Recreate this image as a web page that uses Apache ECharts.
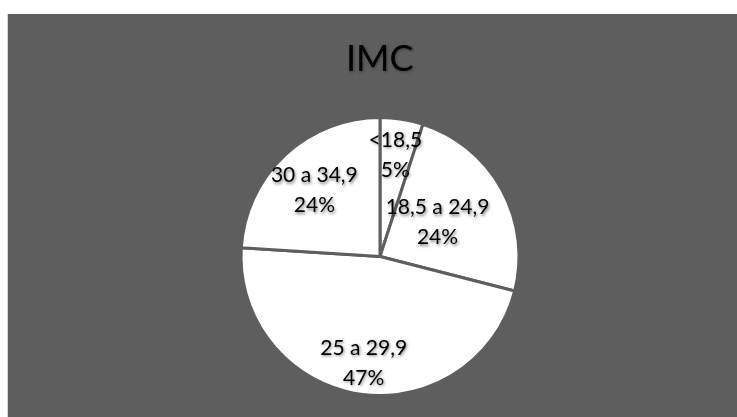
<!DOCTYPE html>
<html>
<head>
<meta charset="utf-8">
<script src="https://cdn.jsdelivr.net/npm/echarts@6/dist/echarts.min.js"></script>
<style>
html,body{margin:0;padding:0;background:#fff;}
#wrap{position:absolute;left:7px;top:14px;width:730px;height:403px;border-left:1px solid #d4d4d4;box-sizing:border-box;}
#chart{width:729px;height:403px;}
</style>
</head>
<body>
<div id="wrap"><div id="chart"></div></div>
<script>
const titleText = 'IMC';
const categories = ['<18,5', '18,5 a 24,9', '25 a 29,9', '30 a 34,9'];
const values = [5, 24, 47, 24];
const labelOffsets = [[4, -30], [-6, 1], [-5, 35], [-16, -13]];

const chart = echarts.init(document.getElementById('chart'));
const bg = '#5e5e5e';
chart.setOption({
  backgroundColor: bg,
  animation: false,
  title: {
    text: titleText,
    left: 333,
    top: 22,
    textStyle: { fontFamily: 'Lato', fontSize: 36, fontWeight: 'normal', color: '#000',
      textShadowColor: 'rgba(0,0,0,0.35)', textShadowBlur: 3, textShadowOffsetX: 1, textShadowOffsetY: 1 }
  },
  series: [{
    type: 'pie',
    center: [372, 242.5],
    radius: 139,
    startAngle: 90,
    clockwise: true,
    itemStyle: { color: '#fff', borderColor: bg, borderWidth: 3 },
    label: {
      position: 'inside',
      formatter: '{b}\n{d}%',
      fontFamily: 'Lato',
      fontSize: 21,
      lineHeight: 30,
      color: '#000',
      textShadowColor: 'rgba(0,0,0,0.5)',
      textShadowBlur: 3,
      textShadowOffsetX: 1,
      textShadowOffsetY: 1.5
    },
    labelLine: { show: false },
    emphasis: { disabled: true },
    data: categories.map((c, i) => ({ name: c, value: values[i], label: { offset: labelOffsets[i] } }))
  }]
});
</script>
</body>
</html>
